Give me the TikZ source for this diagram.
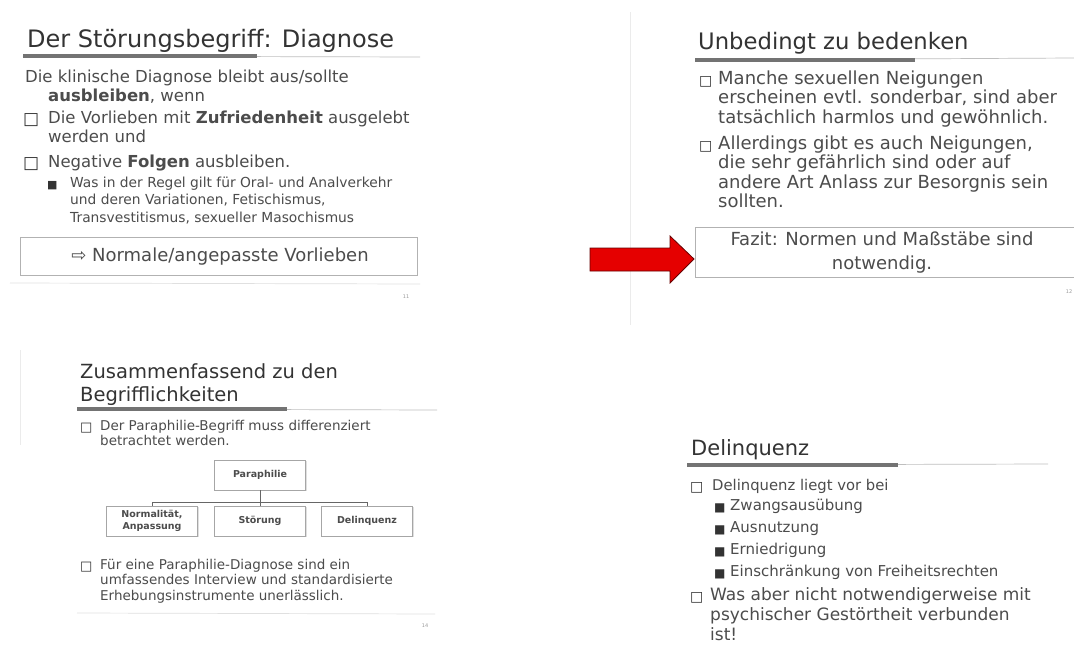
\documentclass[tikz,border=0pt]{standalone}
\usepackage{fontspec}
\setmainfont{DejaVu Sans}
\usetikzlibrary{shadows}
\newcommand{\fsz}[2]{\fontsize{#1}{#2}\selectfont}
\tikzset{
  slidetitle/.style = {anchor=base west, inner sep=0pt, align=left, text=black!80},
  slidetext/.style = {anchor=base west, inner sep=0pt, align=left, text=black!70},
  boxmark/.style = {anchor=base west, inner sep=0pt, align=left, text=black!80},
  pagenum/.style = {inner sep=0pt, text=black!40, font=\fsz{5}{6}},
  barthick/.style = {line width=3.5pt, draw=black!55},
  barthin/.style = {line width=0.7pt, draw=black!25},
  orgbox/.style = {draw=black!35, fill=white, minimum width=91pt, minimum height=30pt, inner sep=1pt, align=center, font=\bfseries\fsz{9.5}{11.5}, text=black!70, drop shadow={opacity=0.25, shadow xshift=1pt, shadow yshift=-1pt}},
  orgline/.style = {draw=black!60, line width=0.8pt},
}
\begin{document}
\begin{tikzpicture}[x=1pt, y=-1pt]
  \useasboundingbox (0,0) rectangle (1074,664);
  \fill[white] (0,0) rectangle (1074,664);

  % Der Stoerungsbegriff
  \node[slidetitle, font=\fsz{24}{28}] (t1) at (27,47) {Der Störungsbegriff: Diagnose};
  \draw[barthin] (23,56) -- (420,57);
  \draw[barthick] (23,56) -- (257,56);
  \node[slidetext, font=\fsz{16.5}{19}] (a1) at (25,101) {Die klinische Diagnose bleibt aus/sollte\\\hspace*{23pt}\textbf{ausbleiben}, wenn};
  \node[boxmark, font=\bfseries\fsz{17}{19}] (a2m) at (23,124) {□};
  \node[slidetext, font=\fsz{16.5}{19}] (a2) at (48,142) {Die Vorlieben mit \textbf{Zufriedenheit} ausgelebt\\werden und};
  \node[boxmark, font=\bfseries\fsz{17}{19}] (a3m) at (23,168) {□};
  \node[slidetext, font=\fsz{16.5}{19}] (a3) at (48,167) {Negative \textbf{Folgen} ausbleiben.};
  \node[boxmark, font=\fsz{11}{17}] (a4m) at (47,188) {■};
  \node[slidetext, font=\fsz{13.8}{17.5}] (a4) at (70,222) {Was in der Regel gilt für Oral- und Analverkehr\\und deren Variationen, Fetischismus,\\Transvestitismus, sexueller Masochismus};
  \draw[draw=black!30, line width=0.8pt] (20,237) rectangle (417,275);
  \node[slidetext, anchor=center, font=\fsz{18}{20}] (a5) at (220,257) {⇨ Normale/angepasste Vorlieben};
  \draw[barthin, draw=black!12] (10,283) -- (420,284);
  \node[pagenum] (n1) at (406,297) {11};

  % Unbedingt zu bedenken
  \draw[draw=black!8, line width=0.8pt] (630,12) -- (630,325);
  \node[slidetitle, font=\fsz{22.7}{26}] (t2) at (698,49) {Unbedingt zu bedenken};
  \draw[barthin] (695,60) -- (1074,58);
  \draw[barthick] (695,60) -- (915,60);
  \node[boxmark, font=\bfseries\fsz{14}{19.5}] (b1m) at (699,85) {□};
  \node[slidetext, font=\fsz{18}{19.5}] (b1) at (718,123) {Manche sexuellen Neigungen\\erscheinen evtl. sonderbar, sind aber\\tatsächlich harmlos und gewöhnlich.};
  \node[boxmark, font=\bfseries\fsz{14}{19.5}] (b2m) at (699,150) {□};
  \node[slidetext, font=\fsz{18}{19.5}] (b2) at (718,207.5) {Allerdings gibt es auch Neigungen,\\die sehr gefährlich sind oder auf\\andere Art Anlass zur Besorgnis sein\\sollten.};
  \draw[draw=black!30, line width=0.8pt] (695,227) rectangle (1080,277);
  \node[slidetext, anchor=center, align=center, font=\fsz{18}{24}] (b3) at (882,253) {Fazit: Normen und Maßstäbe sind\\notwendig.};
  \node[pagenum] (n2) at (1069,292) {12};

  % roter Pfeil
  \filldraw[fill=red!90!black, draw=red!40!black, line width=0.8pt]
    (590,248) -- (670,248) -- (670,236) -- (694,259) -- (670,283) -- (670,271) -- (590,271) -- cycle;

  % Zusammenfassend
  \draw[draw=black!8, line width=0.8pt] (20,350) -- (20,445);
  \node[slidetitle, font=\fsz{19.5}{23}] (t3) at (80,401) {Zusammenfassend zu den\\Begrifflichkeiten};
  \draw[barthin] (77,409) -- (437,410);
  \draw[barthick] (77,409) -- (287,409);
  \node[boxmark, font=\bfseries\fsz{13}{15}] (c1m) at (80,431) {□};
  \node[slidetext, font=\fsz{13.5}{15}] (c1) at (100,445) {Der Paraphilie-Begriff muss differenziert\\betrachtet werden.};
  \node[orgbox] (root) at (260,475) {Paraphilie};
  \node[orgbox] (norm) at (152,521) {Normalität,\\Anpassung};
  \node[orgbox] (stoer) at (260,521) {Störung};
  \node[orgbox] (delq) at (367,521) {Delinquenz};
  \draw[orgline] (root.south) -- ++(0,16);
  \draw[orgline] (root.south) ++(0,12) -| (norm.north);
  \draw[orgline] (root.south) ++(0,12) -| (delq.north);
  \node[boxmark, font=\bfseries\fsz{13}{15.5}] (c2m) at (80,570) {□};
  \node[slidetext, font=\fsz{13.5}{15.5}] (c2) at (100,600) {Für eine Paraphilie-Diagnose sind ein\\umfassendes Interview und standardisierte\\Erhebungsinstrumente unerlässlich.};
  \draw[barthin, draw=black!12] (77,613) -- (435,614);
  \node[pagenum] (n3) at (425,626) {14};

  % Delinquenz
  \node[slidetitle, font=\fsz{21}{24}] (t4) at (691,455) {Delinquenz};
  \draw[barthin] (687,465) -- (1048,464);
  \draw[barthick] (687,465) -- (898,465);
  \node[boxmark, font=\bfseries\fsz{14}{20}] (d1m) at (690,491) {□};
  \node[slidetext, font=\fsz{14.8}{20}] (d1) at (712,490) {Delinquenz liegt vor bei};
  \node[boxmark, font=\fsz{12}{21.7}] (d2m) at (714,577) {■\\■\\■\\■};
  \node[slidetext, font=\fsz{15}{21.7}] (d2) at (730,576) {Zwangsausübung\\Ausnutzung\\Erniedrigung\\Einschränkung von Freiheitsrechten};
  \node[boxmark, font=\bfseries\fsz{14}{20}] (d3m) at (690,601) {□};
  \node[slidetext, font=\fsz{17}{20}] (d3) at (710,640) {Was aber nicht notwendigerweise mit\\psychischer Gestörtheit verbunden\\ist!};
\end{tikzpicture}
\end{document}
